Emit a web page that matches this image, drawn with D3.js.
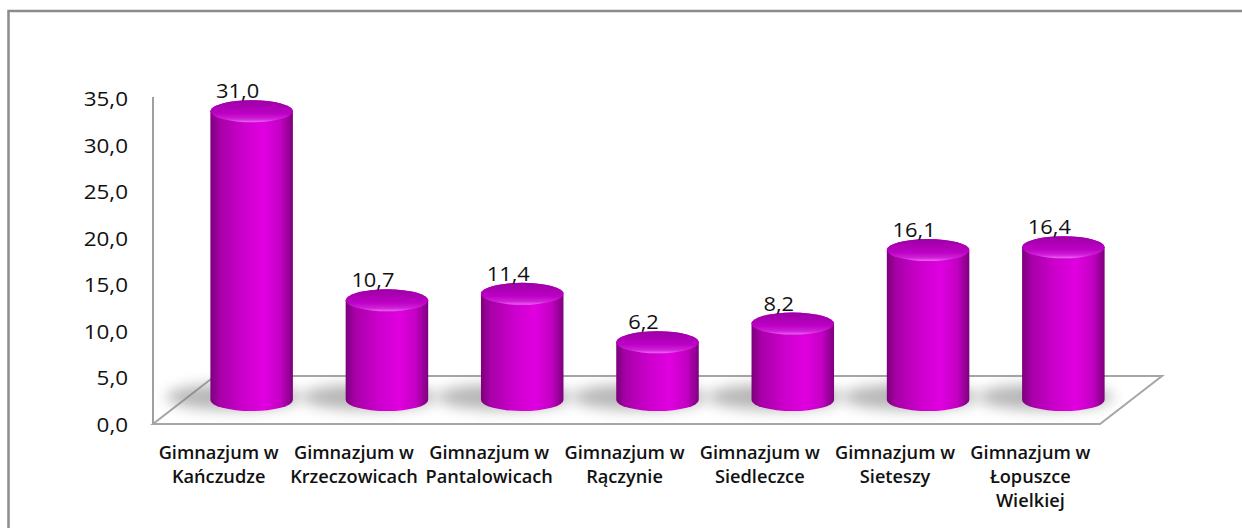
<!DOCTYPE html>
<html>
<head>
<meta charset="utf-8">
<script src="https://cdn.jsdelivr.net/npm/d3@7"></script>
<style>
  body { margin: 0; background: #fff; }
  svg text { font-family: "Open Sans", sans-serif; fill: #111; }
</style>
</head>
<body>
<svg id="chart" width="1242" height="528"></svg>
<script>
const CATEGORIES = [
  ["Gimnazjum w", "Kańczudze"],
  ["Gimnazjum w", "Krzeczowicach"],
  ["Gimnazjum w", "Pantalowicach"],
  ["Gimnazjum w", "Rączynie"],
  ["Gimnazjum w", "Siedleczce"],
  ["Gimnazjum w", "Sieteszy"],
  ["Gimnazjum w", "Łopuszce", "Wielkiej"]
];
const VALUES = [31.0, 10.7, 11.4, 6.2, 8.2, 16.1, 16.4];
const Y_TICKS = [0, 5, 10, 15, 20, 25, 30, 35];

const FLOOR_LEFT = 153, FLOOR_RIGHT = 1100, FLOOR_FRONT = 424;
const DEPTH_X = 62, DEPTH_Y = -48;

const plFormat = d3.formatLocale({decimal: ",", thousands: " ", grouping: [3], currency: ["", " zł"]}).format(".1f");

const svg = d3.select("#chart");

let x = d3.scaleBand()
          .domain(d3.range(CATEGORIES.length))
          .range([FLOOR_LEFT, FLOOR_RIGHT]);
let y = d3.scaleLinear().domain([0, 35]).range([FLOOR_FRONT, 98]);

// gradients & filters
const defs = svg.append("defs");
const bodyGrad = defs.append("linearGradient").attr("id", "body").attr("x1", 0).attr("x2", 1).attr("y1", 0).attr("y2", 0);
[[0, "#7c007c"], [0.12, "#a800a8"], [0.4, "#cc00cc"], [0.65, "#e000e0"], [0.85, "#c400c4"], [1, "#7e007e"]]
  .forEach(s => bodyGrad.append("stop").attr("offset", s[0]).attr("stop-color", s[1]));
const topGrad = defs.append("linearGradient").attr("id", "top").attr("x1", 0).attr("x2", 0).attr("y1", 0).attr("y2", 1);
[[0, "#9c00a4"], [0.6, "#bc00c4"], [0.85, "#d020d8"], [1, "#e868ee"]]
  .forEach(s => topGrad.append("stop").attr("offset", s[0]).attr("stop-color", s[1]));
defs.append("filter").attr("id", "blur").attr("x", "-50%").attr("y", "-100%").attr("width", "200%").attr("height", "300%")
    .append("feGaussianBlur").attr("stdDeviation", 7);

// outer frame
svg.append("rect")
   .attr("x", 8.5).attr("y", 11).attr("width", 1300).attr("height", 600)
   .attr("fill", "none").attr("stroke", "#8c8c8c").attr("stroke-width", 2.5);

// floor
const floorPts = [
  [FLOOR_LEFT, FLOOR_FRONT], [FLOOR_RIGHT, FLOOR_FRONT],
  [FLOOR_RIGHT + DEPTH_X, FLOOR_FRONT + DEPTH_Y], [FLOOR_LEFT + DEPTH_X, FLOOR_FRONT + DEPTH_Y]
];
svg.append("path")
   .attr("d", d3.line()(floorPts) + "Z")
   .attr("fill", "#fff").attr("stroke", "#a6a6a6").attr("stroke-width", 2);

// y axis
svg.append("line")
   .attr("x1", FLOOR_LEFT).attr("x2", FLOOR_LEFT)
   .attr("y1", y(35) - 1).attr("y2", FLOOR_FRONT)
   .attr("stroke", "#a0a0a0").attr("stroke-width", 2);

svg.append("g").selectAll("text")
   .data(Y_TICKS).enter().append("text")
   .attr("transform", d => `translate(128,${y(d) + 8}) scale(1.15,1)`)
   .attr("text-anchor", "end")
   .style("font-size", "19.5px")
   .text(d => plFormat(d));

// cylinders
const RX = x.bandwidth() * 0.305, RY = 11;
const baseY = FLOOR_FRONT + DEPTH_Y / 2;
const cx = i => x(i) + x.bandwidth() / 2 + DEPTH_X / 2;
const topY = v => baseY - (FLOOR_FRONT - y(v));

const bars = svg.append("g").selectAll("g")
                .data(VALUES).enter().append("g");

bars.append("ellipse")
    .attr("cx", (d, i) => cx(i) - 18)
    .attr("cy", baseY - 3)
    .attr("rx", RX + 26).attr("ry", 13)
    .attr("fill", "#7a7a7a").attr("opacity", 0.55)
    .attr("filter", "url(#blur)");

bars.append("path")
    .attr("d", (d, i) => {
      const c = cx(i), t = topY(d);
      return `M${c - RX},${t} L${c - RX},${baseY} A${RX},${RY} 0 0 0 ${c + RX},${baseY} L${c + RX},${t} A${RX},${RY} 0 0 0 ${c - RX},${t} Z`;
    })
    .attr("fill", "url(#body)");

bars.append("ellipse")
    .attr("cx", (d, i) => cx(i))
    .attr("cy", d => topY(d))
    .attr("rx", RX).attr("ry", RY)
    .attr("fill", "url(#top)");

bars.append("text")
    .attr("transform", (d, i) => `translate(${cx(i) - 14},${topY(d) - RY - 2}) scale(1.12,1)`)
    .attr("text-anchor", "middle")
    .style("font-size", "19.5px")
    .text(d => plFormat(d));

// category labels
const labels = svg.append("g").selectAll("text")
                  .data(CATEGORIES).enter().append("text")
                  .attr("text-anchor", "middle")
                  .attr("transform", (d, i) => `translate(${x(i) + x.bandwidth() / 2 - 2},0) scale(1.04,1)`)
                  .style("font-size", "17.5px")
                  .style("font-weight", 600);

labels.selectAll("tspan")
      .data(d => d.map((line, j) => ({line, j})))
      .enter().append("tspan")
      .attr("x", 0)
      .attr("y", d => 459 + d.j * 24)
      .text(d => d.line);
</script>
</body>
</html>
